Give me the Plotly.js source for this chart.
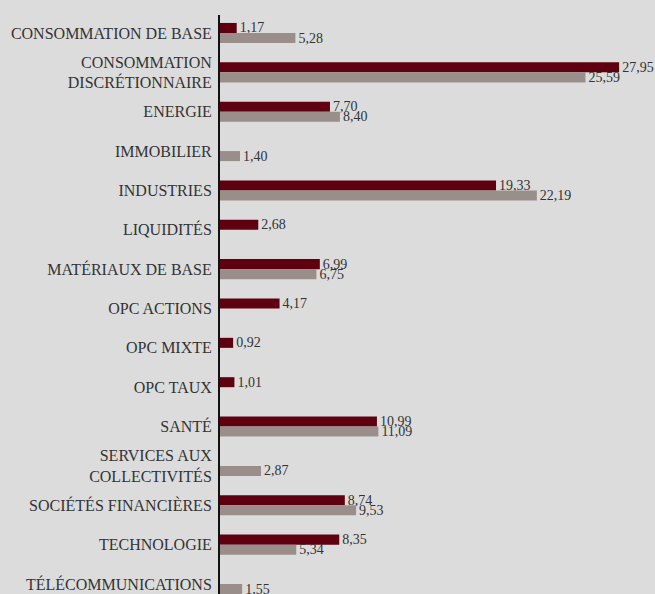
<!DOCTYPE html>
<html><head><meta charset="utf-8">
<script src="https://cdn.plot.ly/plotly-3.0.1.min.js"></script>
<style>html,body{margin:0;padding:0;background:#dcdcdc;}</style>
</head><body>
<div id="chart" style="width:655px;height:594px;"></div>
<script>
const categories = ["CONSOMMATION DE BASE","CONSOMMATION<br>DISCRÉTIONNAIRE","ENERGIE","IMMOBILIER","INDUSTRIES","LIQUIDITÉS","MATÉRIAUX DE BASE","OPC ACTIONS","OPC MIXTE","OPC TAUX","SANTÉ","SERVICES AUX<br>COLLECTIVITÉS","SOCIÉTÉS FINANCIÈRES","TECHNOLOGIE","TÉLÉCOMMUNICATIONS"];
const seriesA = [1.17,27.95,7.70,null,19.33,2.68,6.99,4.17,0.92,1.01,10.99,null,8.74,8.35,null];
const seriesB = [5.28,25.59,8.40,1.40,22.19,null,6.75,null,null,null,11.09,2.87,9.53,5.34,1.55];

const fmt = v => v == null ? "" : v.toFixed(2).replace(".", ",");
const common = {type:"bar", orientation:"h", y:categories, textposition:"outside", cliponaxis:false, constraintext:"none",
  textfont:{family:"Liberation Serif", size:14, color:"#333333"}, hoverinfo:"none"};
const traces = [
  Object.assign({}, common, {x:seriesA, text:seriesA.map(fmt), marker:{color:"#5e0010"}, name:"A"}),
  Object.assign({}, common, {x:seriesB, text:seriesB.map(fmt), marker:{color:"#9a8e8a"}, name:"B"})
];
const n = categories.length;
const layout = {
  width:655, height:594,
  paper_bgcolor:"#dcdcdc", plot_bgcolor:"#dcdcdc",
  margin:{l:220, r:0, t:15, b:0, pad:0},
  showlegend:false, barmode:"group", bargap:0.49, bargroupgap:0,
  xaxis:{range:[0, 435/14.28], showgrid:false, zeroline:false, showticklabels:false, ticks:"", showline:false, fixedrange:true},
  yaxis:{type:"category", range:[n-1+0.254, -0.457], showgrid:false, zeroline:false, showline:true, linecolor:"#111111", linewidth:2,
    ticks:"outside", ticklen:3, tickcolor:"rgba(0,0,0,0)", automargin:false,
    tickfont:{family:"Liberation Serif", size:16, color:"#333333"}}
};
Plotly.newPlot("chart", traces, layout, {displayModeBar:false, staticPlot:true});
</script>
</body></html>
